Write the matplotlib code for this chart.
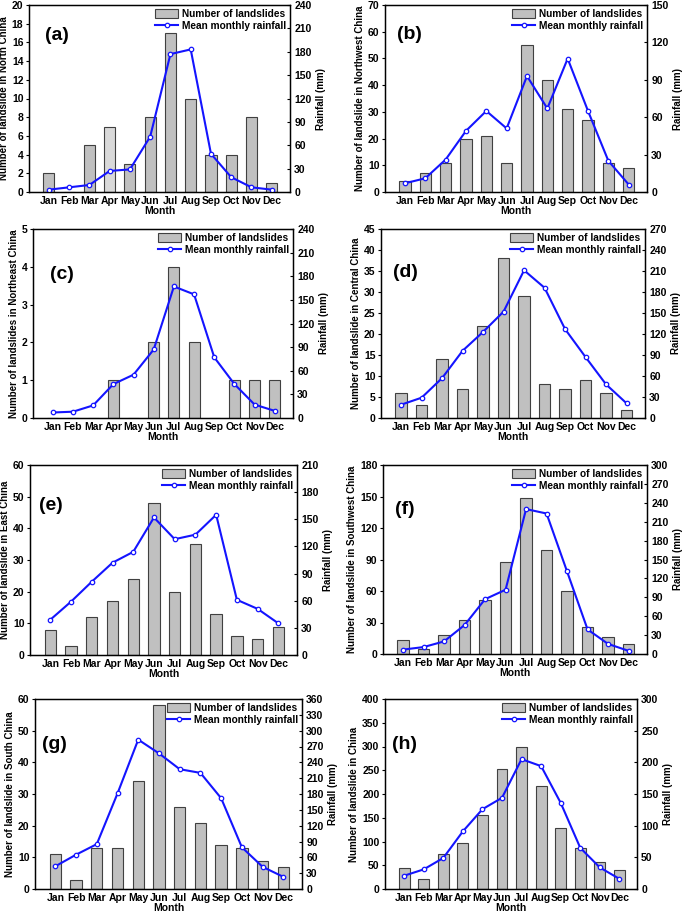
import matplotlib
matplotlib.use("Agg")
import matplotlib.pyplot as plt
import numpy as np

plt.rcParams['font.family'] = ['Liberation Sans', 'DejaVu Sans']
plt.rcParams['font.weight'] = 'bold'
plt.rcParams['axes.labelweight'] = 'bold'

months = ["Jan", "Feb", "Mar", "Apr", "May", "Jun", "Jul", "Aug", "Sep", "Oct", "Nov", "Dec"]

# (a) North China
slides_a = [2, 0, 5, 7, 3, 8, 17, 10, 4, 4, 8, 1]
rain_a = [3, 6, 9, 27, 29, 71, 177, 183, 49, 19, 6, 3]
# (b) Northwest China
slides_b = [4, 7, 11, 20, 21, 11, 55, 42, 31, 27, 11, 9]
rain_b = [7, 11, 26, 49, 65, 51, 93, 67, 107, 65, 25, 6]
# (c) Northeast China
slides_c = [0, 0, 0, 1, 0, 2, 4, 2, 0, 1, 1, 1]
rain_c = [7, 8, 16, 43, 55, 87, 167, 157, 77, 43, 17, 9]
# (d) Central China
slides_d = [6, 3, 14, 7, 22, 38, 29, 8, 7, 9, 6, 2]
rain_d = [19, 29, 57, 96, 123, 152, 211, 186, 127, 87, 48, 21]
# (e) East China
slides_e = [8, 3, 12, 17, 24, 48, 20, 35, 13, 6, 5, 9]
rain_e = [39, 59, 81, 102, 114, 152, 128, 133, 155, 61, 51, 35]
# (f) Southwest China
slides_f = [13, 5, 18, 32, 51, 88, 149, 99, 60, 26, 16, 10]
rain_f = [7, 11, 20, 46, 87, 102, 230, 223, 131, 39, 16, 5]
# (g) South China
slides_g = [11, 3, 13, 13, 34, 58, 26, 21, 14, 13, 9, 7]
rain_g = [43, 65, 85, 181, 283, 257, 227, 220, 172, 79, 42, 23]
# (h) China
slides_h = [44, 21, 73, 97, 155, 253, 300, 217, 129, 86, 56, 40]
rain_h = [21, 31, 49, 91, 126, 144, 205, 194, 136, 65, 34, 16]

W, H = 685, 916
fig = plt.figure(figsize=(W / 100, H / 100), dpi=100)


def px(l, t, r, b):
    return [l / W, 1 - b / H, (r - l) / W, (b - t) / H]


panels = [
    ("(a)", slides_a, rain_a, "Number of landslide in North China", (0, 20, 2), (0, 240, 30), (29, 5, 290, 192), (0.06, 0.837)),
    ("(b)", slides_b, rain_b, "Number of landslide in Northwest China", (0, 70, 10), (0, 150, 30), (385, 5, 647, 192), (0.046, 0.842)),
    ("(c)", slides_c, rain_c, "Number of landslides in Northeast China", (0, 5, 1), (0, 240, 30), (33, 229, 293, 418), (0.065, 0.76)),
    ("(d)", slides_d, rain_d, "Number of landslide in Central China", (0, 45, 5), (0, 270, 30), (381, 229, 645, 418), (0.045, 0.77)),
    ("(e)", slides_e, rain_e, "Number of landslide in East China", (0, 60, 10), (0, 210, 30), (30, 465, 297, 655), (0.034, 0.787)),
    ("(f)", slides_f, rain_f, "Number of landslide in Southwest China", (0, 180, 30), (0, 300, 30), (383, 465, 647, 654), (0.045, 0.765)),
    ("(g)", slides_g, rain_g, "Number of landslide in South China", (0, 60, 10), (0, 360, 30), (35, 699, 302, 889), (0.026, 0.76)),
    ("(h)", slides_h, rain_h, "Number of landslide in China", (0, 400, 50), (0, 300, 50), (385, 699, 637, 889), (0.027, 0.763)),
]

FT = 7.5   # tick labels
FL = 7.3   # legend
FY = 7.0   # axis labels
x = np.arange(1, 13)
for label, slides, rain, ylab, lt, rt, box, lpos in panels:
    ax = fig.add_axes(px(*box))
    colors = ['#c0c0c0'] * 12
    if label == "(a)":
        colors[3] = '#d9d9d9'
    bars = ax.bar(x, slides, width=0.55, color=colors, edgecolor='#404040', linewidth=0.8,
                  label='Number of landslides')
    ax.set_xlim(0.02, 12.9)
    ax.set_ylim(lt[0], lt[1])
    ax.set_yticks(np.arange(lt[0], lt[1] + 0.001, lt[2]))
    ax.set_xticks(x)
    ax.set_xticklabels(months)
    ax.tick_params(axis='x', length=0, labelsize=FT, pad=3)
    ax.tick_params(axis='y', direction='out', length=2.5, width=0.8, labelsize=FT, pad=1.5)
    ax.set_ylabel(ylab, fontsize=FY, labelpad=2)
    ax.set_xlabel("Month", fontsize=FT, labelpad=0)
    for s in ax.spines.values():
        s.set_linewidth(1.0)

    ax2 = ax.twinx()
    line, = ax2.plot(x, rain, color='#1414ff', lw=1.5, marker='o', ms=3.2, mfc='white',
                     mec='#1414ff', mew=0.9, label='Mean monthly rainfall')
    ax2.set_ylim(rt[0], rt[1])
    ax2.set_yticks(np.arange(rt[0], rt[1] + 0.001, rt[2]))
    ax2.tick_params(axis='y', direction='in', length=2.5, width=0.8, labelsize=FT, pad=3)
    ax2.set_ylabel("Rainfall (mm)", fontsize=FY, labelpad=3)

    ax2.legend([bars, line], ['Number of landslides', 'Mean monthly rainfall'],
               loc='upper right', bbox_to_anchor=(1.0, 1.0), frameon=False, fontsize=FL,
               handlelength=2.2, handleheight=1.0, borderpad=0.25, labelspacing=0.15,
               handletextpad=0.4, borderaxespad=0.15)
    ax2.text(lpos[0], lpos[1], label, transform=ax.transAxes, fontsize=14,
             fontweight='bold', ha='left', va='center')

fig.savefig("out.png", dpi=100)
